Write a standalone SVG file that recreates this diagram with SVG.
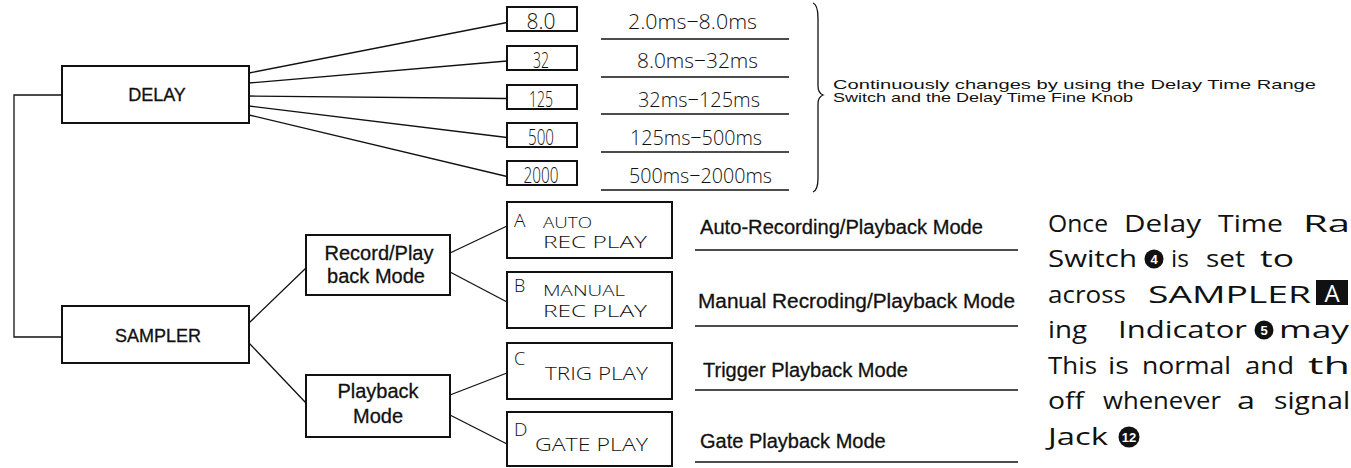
<svg xmlns="http://www.w3.org/2000/svg" width="1351" height="468" viewBox="0 0 1351 468">
<style>
.box{fill:#fff;stroke:#111;stroke-width:2}
.ln{fill:none;stroke:#111;stroke-width:1.3}
.ul{fill:none;stroke:#111;stroke-width:1.5}
.t{font-family:"Liberation Sans",Arial,sans-serif;fill:#111;stroke:#111;stroke-width:0.3}
.n{font-family:"Liberation Sans",Arial,sans-serif;fill:#111}
.lt{font-family:"Open Sans","Liberation Sans",Arial,sans-serif;font-weight:300;fill:#111}
.m{text-anchor:middle}
.p{font-family:"Open Sans","Liberation Sans",Arial,sans-serif;font-size:24px;fill:#111}
.cn{font-family:"Liberation Sans",Arial,sans-serif;font-weight:bold;font-size:13px;fill:#fff;text-anchor:middle}
</style>
<rect width="1351" height="468" fill="#fff"/>

<g id="connectors">
  <path class="ln" d="M62,95 H14 V337 H62"/>
  <path class="ln" d="M249,73 L507,22.5"/>
  <path class="ln" d="M249,83 L507,61"/>
  <path class="ln" d="M249,96 L507,98.5"/>
  <path class="ln" d="M249,106 L507,137.5"/>
  <path class="ln" d="M249,115 L507,176.5"/>
  <path class="ln" d="M249,323 L306,268"/>
  <path class="ln" d="M249,343 L306,403"/>
  <path class="ln" d="M450,253 L507,226"/>
  <path class="ln" d="M450,272 L507,302"/>
  <path class="ln" d="M450,395 L507,373"/>
  <path class="ln" d="M450,415 L507,444"/>
</g>

<g id="delay">
  <rect class="box" x="62" y="66" width="187" height="57"/>
  <text class="t m" x="157" y="101" font-size="18">DELAY</text>
</g>
<g id="sampler">
  <rect class="box" x="62" y="306" width="187" height="57"/>
  <text class="t m" x="158" y="342" font-size="18">SAMPLER</text>
</g>
<g id="record-playback-mode">
  <rect class="box" x="306" y="235" width="144" height="60"/>
  <text class="t m" x="379" y="260" font-size="20">Record/Play</text>
  <text class="t m" x="376" y="283" font-size="20">back Mode</text>
</g>
<g id="playback-mode">
  <rect class="box" x="306" y="375" width="144" height="62"/>
  <text class="t m" x="378" y="398" font-size="20">Playback</text>
  <text class="t m" x="378" y="423" font-size="20">Mode</text>
</g>

<g id="range-8">
  <rect class="box" x="507" y="7" width="70" height="24"/>
  <text class="lt m" x="541" y="29" font-size="22" textLength="29" lengthAdjust="spacingAndGlyphs">8.0</text>
  <text class="lt" x="628" y="29" font-size="21" textLength="129" lengthAdjust="spacingAndGlyphs">2.0ms−8.0ms</text>
  <line class="ul" x1="601" y1="39" x2="789" y2="39"/>
</g>
<g id="range-32">
  <rect class="box" x="507" y="46" width="70" height="24"/>
  <text class="lt m" x="541" y="68" font-size="22" textLength="16" lengthAdjust="spacingAndGlyphs">32</text>
  <text class="lt" x="637" y="68" font-size="21" textLength="121" lengthAdjust="spacingAndGlyphs">8.0ms−32ms</text>
  <line class="ul" x1="601" y1="77" x2="789" y2="77"/>
</g>
<g id="range-125">
  <rect class="box" x="507" y="85" width="70" height="24"/>
  <text class="lt m" x="541" y="107" font-size="22" textLength="24" lengthAdjust="spacingAndGlyphs">125</text>
  <text class="lt" x="638" y="107" font-size="21" textLength="122" lengthAdjust="spacingAndGlyphs">32ms−125ms</text>
  <line class="ul" x1="601" y1="114" x2="789" y2="114"/>
</g>
<g id="range-500">
  <rect class="box" x="507" y="123" width="70" height="24"/>
  <text class="lt m" x="541" y="145" font-size="22" textLength="26" lengthAdjust="spacingAndGlyphs">500</text>
  <text class="lt" x="630" y="145" font-size="21" textLength="132" lengthAdjust="spacingAndGlyphs">125ms−500ms</text>
  <line class="ul" x1="601" y1="152" x2="789" y2="152"/>
</g>
<g id="range-2000">
  <rect class="box" x="507" y="161" width="70" height="24"/>
  <text class="lt m" x="541" y="183" font-size="22" textLength="35" lengthAdjust="spacingAndGlyphs">2000</text>
  <text class="lt" x="629" y="183" font-size="21" textLength="143" lengthAdjust="spacingAndGlyphs">500ms−2000ms</text>
  <line class="ul" x1="601" y1="190" x2="789" y2="190"/>
</g>

<g id="brace-note">
  <path class="ln" d="M813,3 Q818,5 818,18 L818,86 Q818,93 823,95 Q818,97 818,104 L818,178 Q818,190 813,192"/>
  <text class="n" x="833" y="89" font-size="13.5" textLength="483" lengthAdjust="spacingAndGlyphs">Continuously  changes by using the Delay Time Range</text>
  <text class="n" x="833" y="102" font-size="13.5" textLength="300" lengthAdjust="spacingAndGlyphs">Switch and the Delay Time Fine Knob</text>
</g>

<g id="mode-a">
  <rect class="box" x="507" y="202" width="165" height="56"/>
  <text class="lt" x="514" y="227" font-size="19">A</text>
  <text class="lt" x="543" y="228" font-size="15" textLength="49" lengthAdjust="spacingAndGlyphs">AUTO</text>
  <text class="lt" x="543" y="248" font-size="16" textLength="104" lengthAdjust="spacingAndGlyphs">REC PLAY</text>
  <text class="t" x="700" y="234" font-size="20" textLength="283" lengthAdjust="spacingAndGlyphs">Auto-Recording/Playback Mode</text>
  <line class="ul" x1="695" y1="250" x2="1018" y2="250"/>
</g>
<g id="mode-b">
  <rect class="box" x="507" y="272" width="165" height="56"/>
  <text class="lt" x="514" y="292" font-size="18">B</text>
  <text class="lt" x="543" y="296" font-size="15" textLength="82" lengthAdjust="spacingAndGlyphs">MANUAL</text>
  <text class="lt" x="543" y="317" font-size="16" textLength="104" lengthAdjust="spacingAndGlyphs">REC PLAY</text>
  <text class="t" x="698" y="308" font-size="20" textLength="317" lengthAdjust="spacingAndGlyphs">Manual Recroding/Playback Mode</text>
  <line class="ul" x1="695" y1="326" x2="1018" y2="326"/>
</g>
<g id="mode-c">
  <rect class="box" x="507" y="343" width="165" height="56"/>
  <text class="lt" x="514" y="365" font-size="18">C</text>
  <text class="lt" x="545" y="380" font-size="18" textLength="103" lengthAdjust="spacingAndGlyphs">TRIG PLAY</text>
  <text class="t" x="703" y="377" font-size="20">Trigger Playback Mode</text>
  <line class="ul" x1="695" y1="390" x2="1018" y2="390"/>
</g>
<g id="mode-d">
  <rect class="box" x="507" y="412" width="165" height="54"/>
  <text class="lt" x="514" y="436" font-size="19">D</text>
  <text class="lt" x="535" y="451" font-size="19" textLength="113" lengthAdjust="spacingAndGlyphs">GATE PLAY</text>
  <text class="t" x="700" y="448" font-size="20">Gate Playback Mode</text>
  <line class="ul" x1="695" y1="462" x2="1018" y2="462"/>
</g>

<g id="note">
  <text class="p" x="1048" y="232" textLength="60" lengthAdjust="spacingAndGlyphs">Once</text>
  <text class="p" x="1124" y="232" textLength="77" lengthAdjust="spacingAndGlyphs">Delay</text>
  <text class="p" x="1218" y="232" textLength="65" lengthAdjust="spacingAndGlyphs">Time</text>
  <text class="p" x="1303" y="232" textLength="47" lengthAdjust="spacingAndGlyphs">Ra</text>

  <text class="p" x="1048" y="267" textLength="89" lengthAdjust="spacingAndGlyphs">Switch</text>
  <circle cx="1154" cy="259" r="9.5" fill="#111"/>
  <text class="cn" x="1154" y="264">4</text>
  <text class="p" x="1171" y="267" textLength="18" lengthAdjust="spacingAndGlyphs">is</text>
  <text class="p" x="1206" y="267" textLength="39" lengthAdjust="spacingAndGlyphs">set</text>
  <text class="p" x="1260" y="267" textLength="34" lengthAdjust="spacingAndGlyphs">to</text>

  <text class="p" x="1048" y="303" textLength="78" lengthAdjust="spacingAndGlyphs">across</text>
  <text class="p" x="1148" y="303" textLength="163" lengthAdjust="spacingAndGlyphs">SAMPLER</text>
  <rect x="1316" y="280" width="32" height="25" fill="#111"/>
  <text class="p m" x="1332" y="302" style="fill:#fff" font-size="22">A</text>

  <text class="p" x="1048" y="338" textLength="39" lengthAdjust="spacingAndGlyphs">ing</text>
  <text class="p" x="1118" y="338" textLength="129" lengthAdjust="spacingAndGlyphs">Indicator</text>
  <circle cx="1264" cy="330" r="9.5" fill="#111"/>
  <text class="cn" x="1264" y="335">5</text>
  <text class="p" x="1279" y="338" textLength="70" lengthAdjust="spacingAndGlyphs">may</text>

  <text class="p" x="1048" y="374" textLength="49" lengthAdjust="spacingAndGlyphs">This</text>
  <text class="p" x="1108" y="374" textLength="21" lengthAdjust="spacingAndGlyphs">is</text>
  <text class="p" x="1142" y="374" textLength="89" lengthAdjust="spacingAndGlyphs">normal</text>
  <text class="p" x="1245" y="374" textLength="49" lengthAdjust="spacingAndGlyphs">and</text>
  <text class="p" x="1308" y="374" textLength="42" lengthAdjust="spacingAndGlyphs">th</text>

  <text class="p" x="1048" y="409" textLength="36" lengthAdjust="spacingAndGlyphs">off</text>
  <text class="p" x="1103" y="409" textLength="118" lengthAdjust="spacingAndGlyphs">whenever</text>
  <text class="p" x="1237" y="409" textLength="18" lengthAdjust="spacingAndGlyphs">a</text>
  <text class="p" x="1274" y="409" textLength="76" lengthAdjust="spacingAndGlyphs">signal</text>

  <text class="p" x="1048" y="445" textLength="60" lengthAdjust="spacingAndGlyphs">Jack</text>
  <circle cx="1129" cy="437" r="10.5" fill="#111"/>
  <text class="cn" x="1129" y="442" font-size="12">12</text>
</g>
</svg>
